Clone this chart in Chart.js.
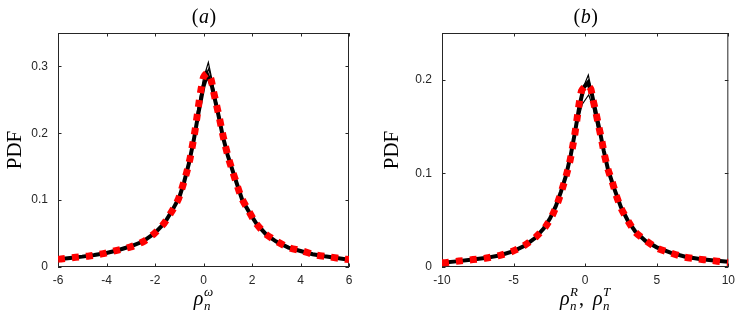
<!DOCTYPE html>
<html>
<head>
<meta charset="utf-8">
<script src="https://cdn.jsdelivr.net/npm/chart.js@4.4.0/dist/chart.umd.min.js"></script>
<style>
body { margin: 0; background: #fff; }
#wrap { position: relative; width: 741px; height: 316px; }
canvas { position: absolute; top: 0; }
</style>
</head>
<body>
<div id="wrap">
<canvas id="chartA" width="370" height="316" style="left:0;width:370px;height:316px"></canvas>
<canvas id="chartB" width="371" height="316" style="left:370px;width:371px;height:316px"></canvas>
</div>
<script>
// panel (a): fit (red dashed) and data (black)
var aFitX = [-6, -5.88, -5.27, -4.71, -4.13, -3.57, -3.0, -2.48, -2.03, -1.63, -1.31, -1.04, -0.86, -0.69, -0.55, -0.45, -0.35, -0.27, -0.19, -0.10, 0.0, 0.15, 0.3, 0.4, 0.52, 0.65, 0.76, 0.89, 1.03, 1.2, 1.38, 1.57, 1.86, 2.15, 2.54, 2.99, 3.51, 4.07, 4.62, 5.22, 5.77, 6];
var aFitY = [0.0115, 0.012, 0.0145, 0.0165, 0.020, 0.025, 0.030, 0.038, 0.050, 0.065, 0.083, 0.101, 0.121, 0.142, 0.163, 0.183, 0.204, 0.224, 0.245, 0.266, 0.284, 0.290, 0.282, 0.265, 0.245, 0.224, 0.204, 0.183, 0.163, 0.143, 0.123, 0.103, 0.084, 0.066, 0.050, 0.039, 0.029, 0.024, 0.018, 0.015, 0.012, 0.011];
var aDataX = [-6, -5.5, -5, -4.5, -4, -3.5, -3, -2.5, -2, -1.6, -1.3, -1.0, -0.8, -0.6, -0.4, -0.2, 0, 0.15, 0.35, 0.6, 0.8, 1.0, 1.3, 1.6, 1.9, 2.2, 2.6, 3.0, 3.5, 4, 4.5, 5, 5.5, 6];
var aDataY = [0.0115, 0.0135, 0.0155, 0.018, 0.021, 0.0255, 0.031, 0.038, 0.051, 0.066, 0.084, 0.104, 0.127, 0.155, 0.190, 0.232, 0.270, 0.288, 0.270, 0.230, 0.195, 0.167, 0.133, 0.100, 0.081, 0.064, 0.048, 0.038, 0.029, 0.024, 0.019, 0.016, 0.0135, 0.011];
var aPeakX = [-0.3, 0.0, 0.2, 0.35, 0.6];
var aPeakY = [0.225, 0.282, 0.306, 0.280, 0.235];
var aPeak2X = [-0.2, 0.05, 0.22, 0.4, 0.7];
var aPeak2Y = [0.232, 0.280, 0.297, 0.268, 0.220];
var aTicksX = [-6, -4, -2, 0, 2, 4, 6];
var aTicksY = [0, 0.1, 0.2, 0.3];

// panel (b)
var bFitX = [-10, -9.77, -8.82, -7.84, -6.89, -5.95, -5.07, -4.25, -3.45, -2.77, -2.27, -1.89, -1.59, -1.3, -1.05, -0.87, -0.71, -0.57, -0.43, -0.25, 0.0, 0.2, 0.4, 0.53, 0.75, 0.94, 1.15, 1.33, 1.6, 1.89, 2.16, 2.5, 3.0, 3.52, 4.25, 5.05, 5.98, 6.89, 7.84, 8.75, 9.7, 10];
var bFitY = [0.0045, 0.0046, 0.0064, 0.0079, 0.0096, 0.0125, 0.0168, 0.0229, 0.032, 0.043, 0.056, 0.070, 0.084, 0.099, 0.114, 0.129, 0.143, 0.158, 0.1735, 0.1885, 0.193, 0.194, 0.190, 0.180, 0.165, 0.151, 0.136, 0.121, 0.104, 0.091, 0.077, 0.063, 0.049, 0.037, 0.028, 0.020, 0.015, 0.0107, 0.0086, 0.0071, 0.0054, 0.005];
var bDataX = [-10, -9, -8, -7, -6, -5, -4.2, -3.5, -2.9, -2.45, -2.05, -1.7, -1.35, -1.0, -0.7, -0.4, -0.1, 0.2, 0.45, 0.7, 1.0, 1.3, 1.6, 2.0, 2.5, 3.0, 3.5, 4.2, 5, 6, 7, 8, 9, 10];
var bDataY = [0.0045, 0.006, 0.0077, 0.0095, 0.0123, 0.017, 0.023, 0.031, 0.041, 0.052, 0.065, 0.080, 0.097, 0.120, 0.145, 0.172, 0.192, 0.197, 0.186, 0.168, 0.147, 0.124, 0.104, 0.085, 0.064, 0.049, 0.038, 0.028, 0.021, 0.015, 0.011, 0.0085, 0.007, 0.0055];
var bPeakX = [-0.6, -0.2, 0.25, 0.55, 0.9];
var bPeakY = [0.150, 0.174, 0.184, 0.170, 0.145];
var bPeak2X = [-0.4, -0.05, 0.22, 0.5, 0.8];
var bPeak2Y = [0.172, 0.195, 0.205, 0.185, 0.160];
var bTicksX = [-10, -5, 0, 5, 10];
var bTicksY = [0, 0.1, 0.2];

var axisColor = '#262626';

function pts(xs, ys) {
    return xs.map(function (x, i) { return {x: x, y: ys[i]}; });
}

function drawRho(ctx, x, y, sup, dry) {
    ctx.font = 'italic 20px "Liberation Serif"';
    var w = ctx.measureText('\u03c1').width;
    if (!dry) ctx.fillText('\u03c1', x, y);
    ctx.font = 'italic 13px "Liberation Serif"';
    var wn = ctx.measureText('n').width;
    var ws = ctx.measureText(sup).width;
    if (!dry) {
        ctx.fillText('n', x + w + 0.5, y + 5);
        ctx.fillText(sup, x + w + 0.5, y - 9);
    }
    return w + 0.5 + Math.max(wn, ws);
}

function makeChart(id, p) {
    var boxPlugin = {
        id: 'box',
        beforeDatasetsDraw: function (chart) {
            var ctx = chart.ctx, a = chart.chartArea;
            var xs = chart.scales.x, ys = chart.scales.y;
            ctx.save();
            ctx.strokeStyle = axisColor;
            ctx.lineWidth = 1;
            ctx.strokeRect(a.left + 0.5, a.top + 0.5, a.right - a.left - 1, a.bottom - a.top - 1);
            ctx.beginPath();
            xs.ticks.forEach(function (t) {
                var px = Math.round(xs.getPixelForValue(t.value)) + 0.5;
                ctx.moveTo(px, a.bottom); ctx.lineTo(px, a.bottom - 3.5);
                ctx.moveTo(px, a.top); ctx.lineTo(px, a.top + 3.5);
            });
            ys.ticks.forEach(function (t) {
                var py = Math.round(ys.getPixelForValue(t.value)) + 0.5;
                ctx.moveTo(a.left, py); ctx.lineTo(a.left + 3.5, py);
                ctx.moveTo(a.right, py); ctx.lineTo(a.right - 3.5, py);
            });
            ctx.stroke();
            ctx.restore();
        },
        afterDraw: function (chart) {
            var ctx = chart.ctx, a = chart.chartArea;
            var cx = (a.left + a.right) / 2;
            ctx.save();
            ctx.fillStyle = '#000';
            ctx.textBaseline = 'alphabetic';
            ctx.textAlign = 'left';
            // title
            ctx.font = '20px "Liberation Serif"';
            var wo = ctx.measureText('(').width;
            ctx.font = 'italic 20px "Liberation Serif"';
            var wl = ctx.measureText(p.letter).width;
            var tx = cx - (2 * wo + wl) / 2;
            ctx.font = '20px "Liberation Serif"';
            ctx.fillText('(', tx, 23);
            ctx.fillText(')', tx + wo + wl + 1, 23);
            ctx.font = 'italic 20px "Liberation Serif"';
            ctx.fillText(p.letter, tx + wo + 0.5, 23);
            // y label
            ctx.save();
            ctx.translate(p.ylabelX, (a.top + a.bottom) / 2);
            ctx.rotate(-Math.PI / 2);
            ctx.font = '21px "Liberation Serif"';
            ctx.textAlign = 'center';
            ctx.textBaseline = 'middle';
            ctx.fillText('PDF', 0, 0);
            ctx.restore();
            // x label
            var base = 305;
            if (p.sups.length === 1) {
                var w = drawRho(ctx, 0, 0, p.sups[0], true);
                drawRho(ctx, cx - w / 2, base, p.sups[0]);
            } else {
                var w1 = drawRho(ctx, 0, 0, p.sups[0], true);
                ctx.font = '20px "Liberation Serif"';
                var wc = ctx.measureText(',  ').width;
                var w2 = drawRho(ctx, 0, 0, p.sups[1], true);
                var sx = cx - (w1 + wc + w2) / 2;
                drawRho(ctx, sx, base, p.sups[0]);
                ctx.font = '20px "Liberation Serif"';
                ctx.fillText(',', sx + w1 + 1, base);
                drawRho(ctx, sx + w1 + wc, base, p.sups[1]);
            }
            ctx.restore();
        }
    };

    var tickFont = {family: '"Liberation Sans", Arial, sans-serif', size: 12};

    function line(xs, ys, color, width, order) {
        return {
            data: pts(xs, ys), showLine: true, borderColor: color,
            borderWidth: width, pointRadius: 0, tension: 0, order: order
        };
    }

    var red = line(p.fitX, p.fitY, '#ff0000', 7, 0);
    red.borderDash = [7, 7];
    red.borderCapStyle = 'butt';
    red.tension = 0.2;

    return new Chart(document.getElementById(id).getContext('2d'), {
        type: 'scatter',
        data: {
            datasets: [
                red,
                line(p.dataX, p.dataY, '#000000', 4, 1),
                line(p.peakX, p.peakY, '#000000', 1.2, 2),
                line(p.peak2X, p.peak2Y, '#000000', 1.2, 3)
            ]
        },
        options: {
            responsive: false,
            animation: false,
            layout: {padding: {left: 0, top: 33, right: p.padRight, bottom: 0}},
            plugins: {legend: {display: false}, tooltip: {enabled: false}},
            scales: {
                x: {
                    type: 'linear',
                    min: p.xMin, max: p.xMax,
                    grid: {display: false, drawTicks: false},
                    border: {display: false},
                    afterBuildTicks: function (s) { s.ticks = p.ticksX.map(function (v) { return {value: v}; }); },
                    afterFit: function (s) { s.height = 49; },
                    ticks: {
                        color: axisColor, font: tickFont, padding: 6, maxRotation: 0,
                        callback: function (v) { return String(v); }
                    }
                },
                y: {
                    type: 'linear',
                    min: 0, max: p.yMax,
                    grid: {display: false, drawTicks: false},
                    border: {display: false},
                    afterBuildTicks: function (s) { s.ticks = p.ticksY.map(function (v) { return {value: v}; }); },
                    afterFit: function (s) { s.width = p.yWidth; },
                    ticks: {
                        color: axisColor, font: tickFont, padding: 10,
                        callback: function (v) { return v === 0 ? '0' : v.toFixed(1); }
                    }
                }
            }
        },
        plugins: [boxPlugin]
    });
}

makeChart('chartA', {
    fitX: aFitX, fitY: aFitY, dataX: aDataX, dataY: aDataY,
    peakX: aPeakX, peakY: aPeakY, peak2X: aPeak2X, peak2Y: aPeak2Y,
    ticksX: aTicksX, ticksY: aTicksY, xMin: -6, xMax: 6, yMax: 0.35,
    yWidth: 58, padRight: 21, ylabelX: 15, letter: 'a', sups: ['\u03c9']
});

makeChart('chartB', {
    fitX: bFitX, fitY: bFitY, dataX: bDataX, dataY: bDataY,
    peakX: bPeakX, peakY: bPeakY, peak2X: bPeak2X, peak2Y: bPeak2Y,
    ticksX: bTicksX, ticksY: bTicksY, xMin: -10, xMax: 10, yMax: 0.25,
    yWidth: 72, padRight: 9, ylabelX: 22, letter: 'b', sups: ['R', 'T']
});
</script>
</body>
</html>
